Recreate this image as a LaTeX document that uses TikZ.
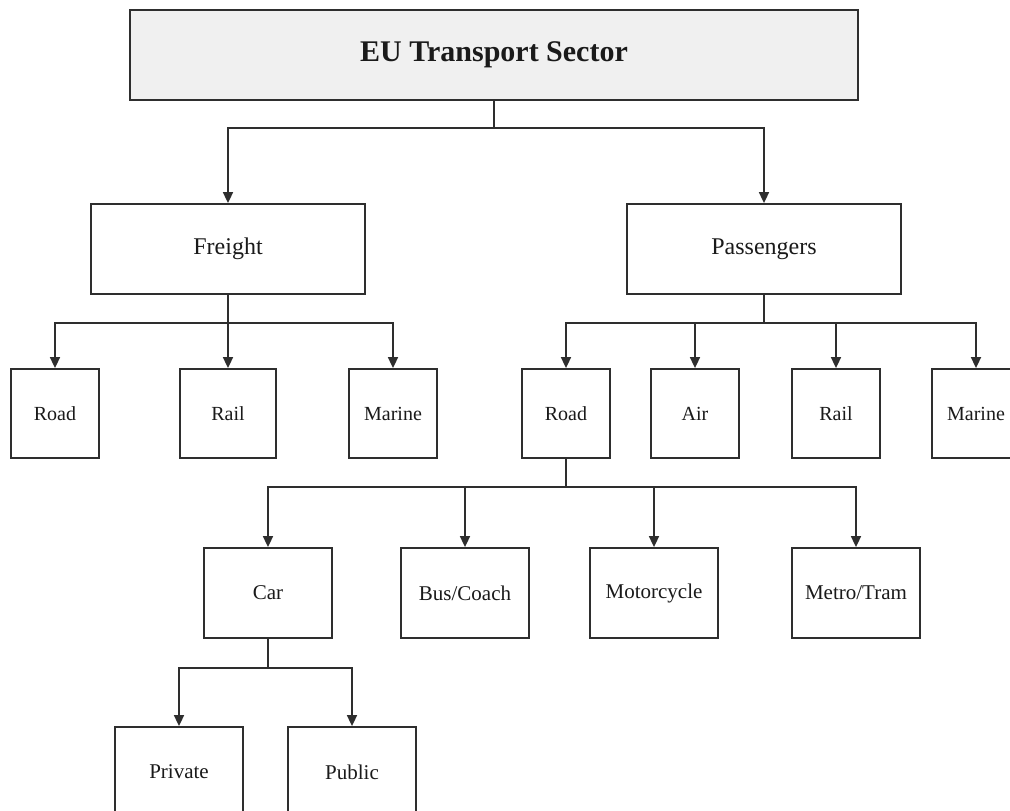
\documentclass[tikz,border=0pt]{standalone}
\usepackage{fontspec}
\setmainfont{Liberation Serif}
\usetikzlibrary{arrows.meta}
\definecolor{edge}{HTML}{2E2E2E}
\definecolor{topfill}{HTML}{F0F0F0}
\definecolor{txt}{HTML}{1A1A1A}
\tikzset{
  box/.style={draw=edge, line width=1.8pt, fill=white, inner sep=0pt, text=txt},
  lvl1/.style={box, minimum width=274pt, minimum height=90pt, font=\fontsize{24}{28}\selectfont},
  small/.style={box, minimum height=89pt, font=\fontsize{20}{24}\selectfont},
  mid/.style={box, minimum width=128pt, minimum height=90pt, font=\fontsize{21}{25}\selectfont},
  arr/.style={draw=edge, line width=1.7pt, -{Triangle[width=10pt,length=11pt]}},
  ln/.style={draw=edge, line width=1.7pt}
}
\begin{document}
\begin{tikzpicture}[x=1pt,y=-1pt]
\clip (0,0) rectangle (1010,811);
\useasboundingbox (0,0) rectangle (1010,811);
% nodes
\node[box, fill=topfill, minimum width=728pt, minimum height=90pt, font=\fontsize{30}{34}\selectfont\bfseries] (top) at (494,55) {EU Transport Sector};
\node[lvl1] (freight) at (228,249) {Freight};
\node[lvl1] (pass) at (764,249) {Passengers};
\node[small, minimum width=88pt] (froad) at (55,413.5) {Road};
\node[small, minimum width=96pt] (frail) at (228,413.5) {Rail};
\node[small, minimum width=88pt] (fmarine) at (393,413.5) {Marine};
\node[small, minimum width=88pt] (proad) at (566,413.5) {Road};
\node[small, minimum width=88pt] (air) at (695,413.5) {Air};
\node[small, minimum width=88pt] (prail) at (836,413.5) {Rail};
\node[small, minimum width=88pt] (pmarine) at (976,413.5) {Marine};
\node[mid] (car) at (268,593) {Car};
\node[mid] (bus) at (465,593) {Bus/Coach};
\node[mid] (moto) at (654,593) {Motorcycle};
\node[mid] (metro) at (856,593) {Metro/Tram};
\node[mid] (private) at (179,772) {Private};
\node[mid] (public) at (352,772) {Public};
% bus coordinates
\coordinate (b0) at (494,128);
\coordinate (b1) at (228,323);
\coordinate (b2) at (764,323);
\coordinate (b3) at (566,487);
\coordinate (b4) at (268,668);
% connectors
\draw[ln] (top.south) -- (b0);
\draw[arr] (b0) -| (freight.north);
\draw[arr] (b0) -| (pass.north);
\draw[arr] (freight.south) -- (frail.north);
\draw[arr] (b1) -| (froad.north);
\draw[arr] (b1) -| (fmarine.north);
\draw[ln] (pass.south) -- (b2);
\draw[arr] (b2) -| (proad.north);
\draw[arr] (b2) -| (air.north);
\draw[arr] (b2) -| (prail.north);
\draw[arr] (b2) -| (pmarine.north);
\draw[ln] (proad.south) -- (b3);
\draw[arr] (b3) -| (car.north);
\draw[arr] (b3) -| (bus.north);
\draw[arr] (b3) -| (moto.north);
\draw[arr] (b3) -| (metro.north);
\draw[ln] (car.south) -- (b4);
\draw[arr] (b4) -| (private.north);
\draw[arr] (b4) -| (public.north);
\end{tikzpicture}
\end{document}
